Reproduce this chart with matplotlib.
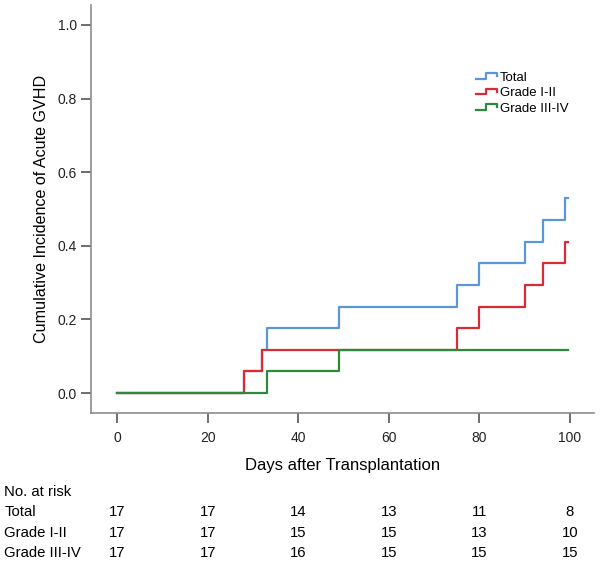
import matplotlib
matplotlib.use("Agg")
import matplotlib.pyplot as plt
import matplotlib.transforms as mtransforms
from matplotlib.legend_handler import HandlerBase
from matplotlib.lines import Line2D

plt.rcParams['font.family'] = ['Liberation Sans', 'DejaVu Sans']

# events (days) and cumulative incidence, n = 17
n_total = 17
total_days = [0, 28, 32, 33, 49, 75, 80, 90, 94, 99, 99.5]
total_events = [0, 1, 2, 3, 4, 5, 6, 7, 8, 9, 9]
grade12_days = [0, 28, 32, 75, 80, 90, 94, 99, 99.5]
grade12_events = [0, 1, 2, 3, 4, 5, 6, 7, 7]
grade34_days = [0, 33, 49, 99.5]
grade34_events = [0, 1, 2, 2]

risk_times = [0, 20, 40, 60, 80, 100]
risk_labels = ["Total", "Grade I-II", "Grade III-IV"]
risk_counts = [
    [17, 17, 14, 13, 11, 8],
    [17, 17, 15, 15, 13, 10],
    [17, 17, 16, 15, 15, 15],
]

colors = ["#5b97d8", "#da2a36", "#2d8a3c"]


class StepHandler(HandlerBase):
    def create_artists(self, legend, orig_handle, xdescent, ydescent,
                       width, height, fontsize, trans):
        x0, x1 = -xdescent, -xdescent + width
        y0, y1 = -ydescent + height * 0.2, -ydescent + height * 0.8
        xm = x0 + width * 0.48
        xs = [x0, xm, xm, x1, x1]
        ys = [y0, y0, y1, y1, y1 - (y1 - y0) * 0.5]
        line = Line2D(xs, ys, color=orig_handle.get_color(), lw=1.6,
                      transform=trans)
        return [line]


def main():
    fig = plt.figure(figsize=(6.0, 5.63), dpi=100)
    ax = fig.add_axes([0.1517, 0.2664, 0.99 - 0.1517, 0.991 - 0.2664])

    series = [
        (total_days, total_events, "Total"),
        (grade12_days, grade12_events, "Grade I-II"),
        (grade34_days, grade34_events, "Grade III-IV"),
    ]
    handles = []
    for (d, e, lab), c in zip(series, colors):
        h, = ax.step(d, [v / n_total for v in e], where='post', color=c,
                     lw=1.6, label=lab)
        handles.append(h)

    ax.set_xlim(-5.75, 105.3)
    ax.set_ylim(-0.054, 1.054)
    ax.set_xticks(risk_times)
    ax.set_yticks([0.0, 0.2, 0.4, 0.6, 0.8, 1.0])
    ax.set_yticklabels(["0.0", "0.2", "0.4", "0.6", "0.8", "1.0"])

    for s in ["top", "right"]:
        ax.spines[s].set_visible(False)
    for s in ["left", "bottom"]:
        ax.spines[s].set_color("#8c8c8c")
        ax.spines[s].set_linewidth(1.2)
    ax.tick_params(colors="#222222", labelsize=10, length=7, width=1.2,
                   direction='out')
    ax.tick_params(axis='both', color="#555555")
    ax.tick_params(axis='x', pad=6)
    ax.tick_params(axis='y', pad=3)

    ax.set_ylabel("Cumulative Incidence of Acute GVHD", fontsize=11.6,
                  labelpad=6)
    ax.set_xlabel("Days after Transplantation", fontsize=12, labelpad=9)

    ax.legend(handles=handles, handler_map={h: StepHandler() for h in handles},
              loc='upper left', bbox_to_anchor=(0.755, 0.85), frameon=False,
              fontsize=9.5, handlelength=1.6, handletextpad=0.2,
              labelspacing=0.25, borderaxespad=0)

    # number-at-risk table
    trans = mtransforms.blended_transform_factory(ax.transData, fig.transFigure)
    fig.text(0.007, 1 - 492 / 563, "No. at risk", fontsize=10.7, va='center')
    row_y = [512, 533, 553]
    for lab, counts, y in zip(risk_labels, risk_counts, row_y):
        fig.text(0.007, 1 - y / 563, lab, fontsize=10.7, va='center')
        for t, c in zip(risk_times, counts):
            ax.text(t, 1 - y / 563, str(c), transform=trans, fontsize=10.7,
                    ha='center', va='center', clip_on=False)

    fig.savefig("out.png", dpi=100)


if __name__ == "__main__":
    main()
